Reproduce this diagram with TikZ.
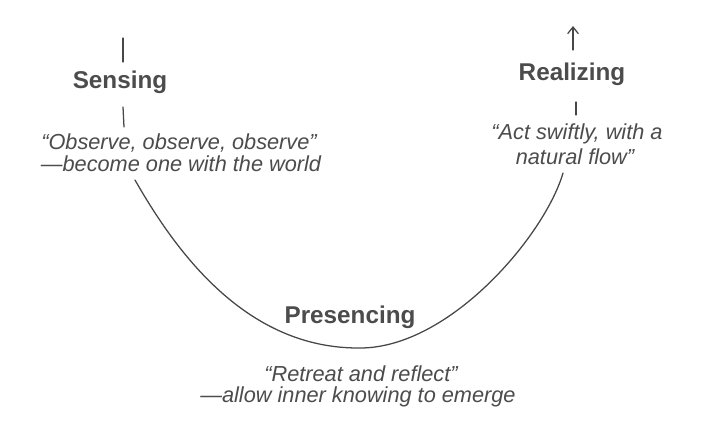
\documentclass[tikz,border=0pt]{standalone}
\usepackage{fontspec}
\setmainfont{Liberation Sans}
\usetikzlibrary{arrows.meta}
\definecolor{ink}{gray}{0.30}
\definecolor{linegray}{gray}{0.28}
\begin{document}
\begin{tikzpicture}[x=0.75pt,y=-0.75pt,
  stage/.style={anchor=base,inner sep=0pt,text=ink,font=\fontsize{18.2}{20}\selectfont\bfseries},
  saying/.style={anchor=base,inner sep=0pt,text=ink,font=\fontsize{16.3}{18}\selectfont\itshape},
  flowline/.style={draw=linegray,line width=0.95pt,line cap=round}]
\useasboundingbox[fill=white] (0,0) rectangle (706,436);

% stage names
\node[stage] (sense)   at (120,88)  {Sensing};
\node[stage] (present) at (350,323) {Presencing};
\node[stage] (real)    at (572,80)  {Realizing};

% sayings under each stage
\node[saying] (senseA)   at (179,149) {“Observe, observe, observe”};
\node[saying] (senseB)   at (181,171) {—become one with the world};
\node[saying] (realA)    at (577,139) {“Act swiftly, with a};
\node[saying] (realB)    at (575,164) {natural flow”};
\node[saying] (presentA) at (361,381) {“Retreat and reflect”};
\node[saying] (presentB) at (358,402) {—allow inner knowing to emerge};

% end points of the U-shaped path, interrupted by the text
\coordinate (s0) at (123,38);
\coordinate (s1) at (123,62);
\coordinate (s2) at (123,107);
\coordinate (s3) at (124,127);
\coordinate (u0) at (135,180);
\coordinate (ub) at (360,348);
\coordinate (u1) at (563,173);
\coordinate (r0) at (576,115);
\coordinate (r1) at (576,102);
\coordinate (r2) at (573,50);
\coordinate (r3) at (573,26);

\draw[flowline] (s0) -- (s1);
\draw[flowline] (s2) -- (s3);
\draw[flowline] (u0) .. controls (175,250) and (245,349) .. (ub)
                     .. controls (450,348) and (545,235) .. (u1);
\draw[flowline] (r0) -- (r1);
\draw[flowline,-{Straight Barb[length=5pt,width=8pt,line width=0.95pt]}] (r2) -- (r3);
\end{tikzpicture}
\end{document}
